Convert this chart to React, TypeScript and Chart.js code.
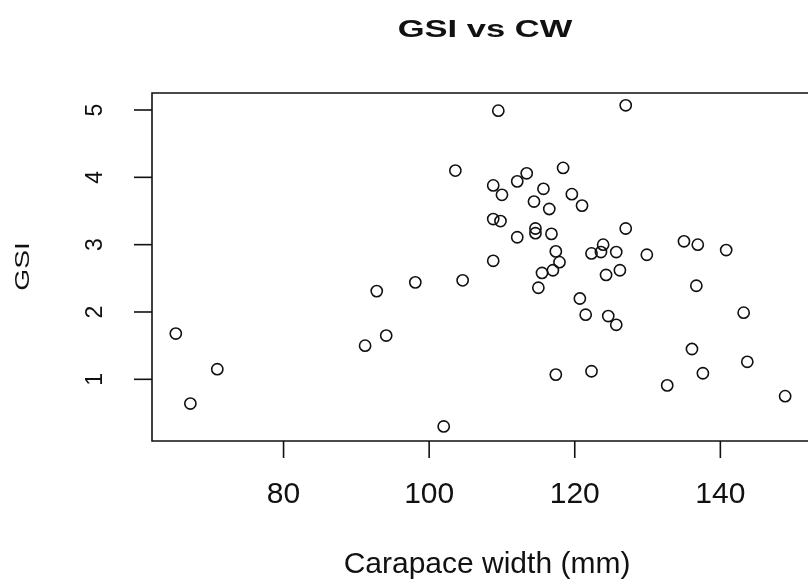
import React, { useEffect, useRef } from "react";
import { Chart, registerables } from "chart.js";

Chart.register(...registerables);

const carapaceWidth = [
  65.2, 67.2, 70.9, 91.2, 92.8, 94.1, 98.1, 103.6, 104.6, 102.0,
  109.5, 127.0, 108.8, 110.0, 112.1, 113.4, 118.4, 115.7, 114.4, 116.5,
  119.6, 121.0, 108.8, 109.8, 114.6, 114.6, 116.8, 112.1, 127.0, 108.8,
  117.4, 117.9, 117.0, 115.5, 115.0, 123.9, 122.3, 123.6, 125.7, 129.9,
  124.3, 126.2, 135.0, 136.9, 140.8, 136.7, 120.7, 121.5, 124.6, 125.7,
  143.2, 136.1, 143.7, 137.6, 132.7, 117.4, 122.3, 148.9,
];
const gsi = [
  1.68, 0.64, 1.15, 1.50, 2.31, 1.65, 2.44, 4.10, 2.47, 0.30,
  4.99, 5.07, 3.88, 3.74, 3.94, 4.06, 4.14, 3.83, 3.64, 3.53,
  3.75, 3.58, 3.38, 3.35, 3.24, 3.17, 3.16, 3.11, 3.24, 2.76,
  2.90, 2.74, 2.62, 2.58, 2.36, 3.00, 2.87, 2.89, 2.89, 2.85,
  2.55, 2.62, 3.05, 3.00, 2.92, 2.39, 2.20, 1.96, 1.94, 1.81,
  1.99, 1.45, 1.26, 1.09, 0.91, 1.07, 1.12, 0.75,
];
const xTicks = [80, 100, 120, 140];
const yTicks = [1, 2, 3, 4, 5];
const titleText = "GSI vs CW";
const xTitle = "Carapace width (mm)";
const yTitle = "GSI";

const FONT = "'Liberation Sans', Arial, Helvetica, sans-serif";

const framePlugin = {
  id: "rframe",
  afterDraw(chart: any) {
    const { ctx, chartArea, scales } = chart;
    const { left, top, right, bottom } = chartArea;
    ctx.save();
    ctx.strokeStyle = "#111";
    ctx.lineWidth = 1.6;
    // box (right edge lies beyond the visible canvas)
    ctx.beginPath();
    ctx.moveTo(right + 20, top);
    ctx.lineTo(left, top);
    ctx.lineTo(left, bottom);
    ctx.lineTo(right + 20, bottom);
    ctx.stroke();

    // x ticks
    ctx.fillStyle = "#111";
    ctx.font = `30px ${FONT}`;
    ctx.textAlign = "center";
    ctx.textBaseline = "alphabetic";
    xTicks.forEach((v) => {
      const px = scales.x.getPixelForValue(v);
      ctx.beginPath();
      ctx.moveTo(px, bottom);
      ctx.lineTo(px, bottom + 17);
      ctx.stroke();
      ctx.fillText(String(v), px, bottom + 62);
    });

    // y ticks
    ctx.font = `23px ${FONT}`;
    yTicks.forEach((v) => {
      const py = scales.y.getPixelForValue(v);
      ctx.beginPath();
      ctx.moveTo(left, py);
      ctx.lineTo(left - 18, py);
      ctx.stroke();
      ctx.save();
      ctx.translate(left - 50, py);
      ctx.rotate(-Math.PI / 2);
      ctx.fillText(String(v), 0, 0);
      ctx.restore();
    });

    // x title
    ctx.font = `30px ${FONT}`;
    ctx.fillText(xTitle, 487, 573);

    // y title
    ctx.save();
    ctx.translate(28.5, 266.5);
    ctx.rotate(-Math.PI / 2);
    ctx.scale(1.34, 1);
    ctx.font = `21px ${FONT}`;
    ctx.fillText(yTitle, 0, 0);
    ctx.restore();

    // main title
    ctx.save();
    ctx.translate(485, 36.7);
    ctx.scale(1.5, 1);
    ctx.font = `bold 23px ${FONT}`;
    ctx.fillText(titleText, 0, 0);
    ctx.restore();

    ctx.restore();
  },
};

export default function App() {
  const ref = useRef<HTMLCanvasElement | null>(null);
  useEffect(() => {
    if (!ref.current) return;
    const chart = new Chart(ref.current, {
      type: "scatter",
      data: {
        datasets: [
          {
            data: carapaceWidth.map((x, i) => ({ x, y: gsi[i] })),
            pointStyle: "circle",
            pointRadius: 5.6,
            pointHoverRadius: 5.6,
            borderColor: "#111",
            backgroundColor: "rgba(0,0,0,0)",
            pointBorderWidth: 1.6,
            borderWidth: 1.6,
          },
        ],
      },
      options: {
        responsive: false,
        animation: false,
        layout: { padding: { left: 152, top: 93, right: 0, bottom: 141 } },
        plugins: {
          legend: { display: false },
          tooltip: { enabled: false },
          title: { display: false },
        },
        scales: {
          x: { type: "linear", display: false, min: 61.93, max: 151.05 },
          y: { type: "linear", display: false, min: 0.0839, max: 5.2525 },
        },
      },
      plugins: [framePlugin],
    });
    return () => chart.destroy();
  }, []);
  return (
    <div style={{ position: "fixed", left: 0, top: 0, width: 808, height: 582, background: "#fff" }}>
      <canvas ref={ref} width={808} height={582} style={{ display: "block" }} />
    </div>
  );
}
